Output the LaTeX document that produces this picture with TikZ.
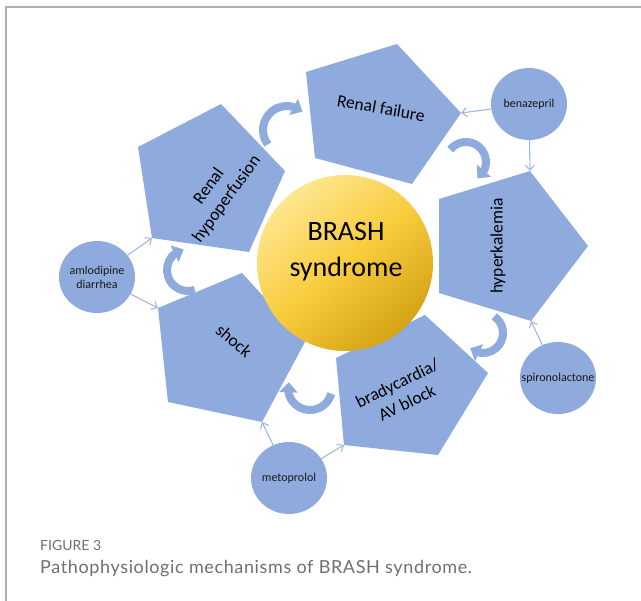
\documentclass[tikz,border=0pt]{standalone}
\usepackage{fontspec}
\setmainfont{Carlito}
\newfontfamily\capfont{Lato}
\usetikzlibrary{arrows.meta,shapes.geometric,bending}
\definecolor{pent}{HTML}{8FAADC}
\definecolor{thinblue}{HTML}{9FB7E2}
\definecolor{goldA}{HTML}{FFE690}
\definecolor{goldB}{HTML}{F8CC3C}
\definecolor{goldC}{HTML}{D4A316}
\definecolor{capgray}{HTML}{6F6F6F}
\definecolor{framegray}{HTML}{B0B0B0}
\begin{document}
\begin{tikzpicture}[x=1bp,y=-1bp,
  ptext/.style={font=\fontsize{17.5bp}{22bp}\selectfont, text=black, inner sep=0pt, align=center},
  smallc/.style={ellipse, fill=pent, minimum width=76bp, minimum height=72bp, inner sep=0pt},
  stext/.style={font=\fontsize{12bp}{14bp}\selectfont, text=black!90, inner sep=0pt, align=center},
  thinarrow/.style={draw=thinblue, line width=1.1bp, -{Straight Barb[length=5bp,width=9bp]}},
  curvy/.style={draw=pent, line width=8bp, -{Triangle[length=10bp,width=18bp,flex]}}
]
\useasboundingbox (0,0) rectangle (641,601);
% frame
\draw[framegray, line width=1.3bp] (6,601) -- (6,7) -- (641,7);

% pentagon vertices
\coordinate (rf1) at (397,44);  \coordinate (rf2) at (461,113); \coordinate (rf3) at (412,184);
\coordinate (rf4) at (315,158); \coordinate (rf5) at (306,72);
\coordinate (rh1) at (221,104); \coordinate (rh2) at (285,171); \coordinate (rh3) at (249,252);
\coordinate (rh4) at (152,238); \coordinate (rh5) at (138,147);
\coordinate (hk1) at (530,171); \coordinate (hk2) at (588,246); \coordinate (hk3) at (531,321);
\coordinate (hk4) at (439,293); \coordinate (hk5) at (439,199);
\coordinate (sh1) at (242,273); \coordinate (sh2) at (305,342); \coordinate (sh3) at (262,422);
\coordinate (sh4) at (168,402); \coordinate (sh5) at (158,308);
\coordinate (br1) at (425,315); \coordinate (br2) at (488,373); \coordinate (br3) at (438,455);
\coordinate (br4) at (344,445); \coordinate (br5) at (336,358);

\fill[pent] (rf1)--(rf2)--(rf3)--(rf4)--(rf5)--cycle;
\fill[pent] (rh1)--(rh2)--(rh3)--(rh4)--(rh5)--cycle;
\fill[pent] (hk1)--(hk2)--(hk3)--(hk4)--(hk5)--cycle;
\fill[pent] (sh1)--(sh2)--(sh3)--(sh4)--(sh5)--cycle;
\fill[pent] (br1)--(br2)--(br3)--(br4)--(br5)--cycle;

% central circle
\shade[top color=goldA, bottom color=goldC, middle color=goldB, shading angle=40]
  (345,263) circle[radius=88];
\node[font=\fontsize{28bp}{36bp}\selectfont, align=center, inner sep=0pt] (brash) at (346,252) {BRASH\\syndrome};

% pentagon labels
\node[ptext, rotate=-10] (rft) at (381,108) {Renal failure};
\node[ptext, rotate=54] (rht) at (218,193) {Renal\\hypoperfusion};
\node[ptext, rotate=90] (hkt) at (498,246) {hyperkalemia};
\node[ptext, rotate=-40] (sht) at (234,341) {shock};
\node[ptext, rotate=26] (brt) at (402,393) {bradycardia/\\AV block};

% curved block arrows
\draw[curvy] ({287+24*cos(143)},{130+24*sin(143)}) arc[start angle=143, end angle=310, radius=24];
\draw[curvy] ({466+20*cos(218)},{162+20*sin(218)}) arc[start angle=218, end angle=415, radius=20];
\draw[curvy] ({483+20*cos(304)},{333+20*sin(304)}) arc[start angle=304, end angle=490, radius=20];
\draw[curvy] ({310+22*cos(15)},{388+22*sin(15)}) arc[start angle=15, end angle=195, radius=22];
\draw[curvy] ({188+21*cos(71)},{270+21*sin(71)}) arc[start angle=71, end angle=258, radius=21];

% drug circles
\node[smallc] (benaz) at (529,104) {};
\node[stext] (benazt) at (benaz) {benazepril};
\node[smallc] (spiro) at (558,378) {};
\node[stext] (spirot) at (spiro) {spironolactone};
\node[smallc] (amlo) at (97,277) {};
\node[stext] (amlot) at (amlo) {amlodipine\\diarrhea};
\node[smallc] (meto) at (289,478) {};
\node[stext] (metot) at (meto) {metoprolol};

% thin arrows
\draw[thinarrow] (benaz) -- (rf2);
\draw[thinarrow] (benaz) -- (hk1);
\draw[thinarrow] (spiro) -- (hk3);
\draw[thinarrow] (meto) -- (sh3);
\draw[thinarrow] (meto) -- (br4);
\draw[thinarrow] (amlo) -- (rh4);
\draw[thinarrow] (amlo) -- (sh5);

% caption
\node[anchor=base west, inner sep=0pt, font=\capfont\fontsize{14bp}{16bp}\selectfont, text=capgray] (fig) at (40,550) {FIGURE 3};
\node[anchor=base west, inner sep=0pt, font=\capfont\fontsize{18bp}{20bp}\selectfont\addfontfeature{LetterSpace=3.5}, text=capgray] (cap) at (40,573) {Pathophysiologic mechanisms of BRASH syndrome.};
\end{tikzpicture}
\end{document}
